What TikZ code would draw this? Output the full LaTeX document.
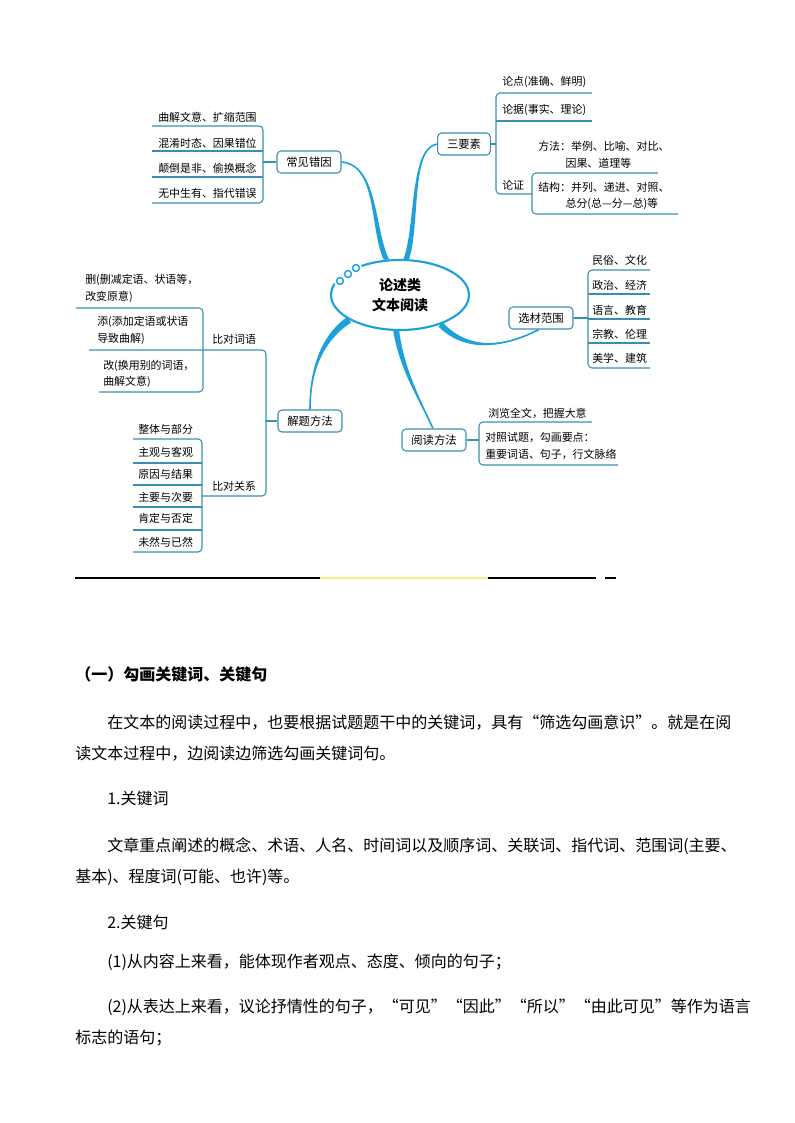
\documentclass[tikz,border=0pt]{standalone}
\usepackage{fontspec}
\setmainfont{Noto Sans CJK SC}
\usetikzlibrary{calc, shapes.geometric}
\definecolor{limbc}{HTML}{1DA1DA}
\definecolor{brkc}{HTML}{3A8FB0}
\definecolor{hilite}{HTML}{F4EE86}
\newcommand\limb[5]{%
  \fill[limbc] ($#1+#5$) .. controls ($#2+0.75*#5$) and ($#3+0.35*#5$) .. #4
    .. controls ($#3-0.35*#5$) and ($#2-0.75*#5$) .. ($#1-#5$) -- cycle;
  \draw[limbc, line width=1.2pt] #1 .. controls #2 and #3 .. #4;}
\begin{document}
\begin{tikzpicture}[x=0.75pt, y=-0.75pt,
brk/.style={draw=brkc, line width=0.8pt, rounded corners=3pt},
topic/.style={draw=brkc, line width=0.8pt, rounded corners=3pt, fill=white,
    minimum height=16.5pt, inner xsep=7pt, inner ysep=0pt, font=\fontsize{8.5}{10}\selectfont},
leaf/.style={anchor=west, inner sep=0pt, align=left, font=\fontsize{8.2}{12.5}\selectfont},
hub/.style={ellipse, draw=limbc, line width=1.6pt, minimum width=103.5pt, minimum height=52.5pt,
    inner sep=0pt, align=center, font=\fontsize{10.5}{15}\selectfont\bfseries},
body/.style={anchor=base west, inner sep=0pt, font=\fontsize{12}{14}\selectfont}]
\useasboundingbox[fill=white] (0,0) rectangle (794,1123);

% centre
\node[hub] (hub) at (400,295) {论述类\\文本阅读};
\foreach \p in {(340,281),(348,274),(356,268)} {
  \fill[white] \p circle (4.4pt);
  \draw[limbc, line width=1.1pt] \p circle (2.6pt);
}

% 常见错因
\node[topic] (cjcy) at (309,162) {常见错因};
\coordinate (cjspine) at (263,0);
\foreach \y/\t [count=\i] in {117/曲解文意、扩缩范围, 143/混淆时态、因果错位, 168/颠倒是非、偷换概念, 193/无中生有、指代错误}
  \node[leaf] (cj\i) at (158,\y) {\t};
\draw[brk] (152,126) -- (263,126) -- (263,203) -- (152,203);
\draw[brk] (152,151) -- (263,151) (152,177) -- (263,177);
\draw[brk] (cjcy.west) -- (cjcy.west -| cjspine);

% 三要素
\node[topic] (sys) at (464,144) {三要素};
\coordinate (sysspine) at (496,0);
\node[leaf] (lund) at (502,82) {论点(准确、鲜明)};
\node[leaf] (lunj) at (502,110) {论据(事实、理论)};
\node[leaf] (lunz) at (502,185) {论证};
\node[leaf] (ff) at (538,155) {方法：举例、比喻、对比、\\\hspace*{2.5em}因果、道理等};
\node[leaf] (jg) at (538,196) {结构：并列、递进、对照、\\\hspace*{2.5em}总分(总—分—总)等};
\draw[brk] (592,93) -- (496,93) -- (496,194) -- (532,194);
\draw[brk] (496,121) -- (592,121);
\draw[brk] (658,173) -- (532,173) -- (532,214) -- (678,214);
\draw[brk] (sys.east) -- (sys.east -| sysspine);

% 选材范围
\node[topic] (xcfw) at (541,318) {选材范围};
\coordinate (xcspine) at (588,0);
\foreach \y/\t [count=\i] in {260/民俗、文化, 285/政治、经济, 310/语言、教育, 334/宗教、伦理, 358/美学、建筑}
  \node[leaf] (xc\i) at (592,\y) {\t};
\draw[brk] (650,270) -- (588,270) -- (588,368) -- (650,368);
\draw[brk] (588,294) -- (650,294) (588,319) -- (650,319) (588,343) -- (650,343);
\draw[brk] (xcfw.east) -- (xcfw.east -| xcspine);

% 解题方法
\node[topic] (jtff) at (310,421) {解题方法};
\coordinate (jtspine) at (266,0);
\node[leaf] (bdcy) at (212,339) {比对词语};
\node[leaf] (bdgx) at (212,486) {比对关系};
\node[leaf] (shan) at (85,288.5) {删(删减定语、状语等，\\改变原意)};
\node[leaf] (tian) at (97,330.5) {添(添加定语或状语\\导致曲解)};
\node[leaf] (gai) at (103,374) {改(换用别的词语，\\曲解文意)};
\foreach \y/\t [count=\i] in {429/整体与部分, 452/主观与客观, 474/原因与结果, 497/主要与次要, 518/肯定与否定, 542/未然与已然}
  \node[leaf] (gx\i) at (138,\y) {\t};
\draw[brk] (89,350) -- (266,350) -- (266,496) -- (202,496);
\draw[brk] (76,308) -- (203,308) -- (203,392) -- (99,392);
\draw[brk] (133,439) -- (202,439) -- (202,552) -- (133,552);
\draw[brk] (133,463) -- (202,463) (133,485) -- (202,485) (133,507) -- (202,507) (133,530) -- (202,530);
\draw[brk] (jtff.west) -- (jtff.west -| jtspine);

% 阅读方法
\node[topic] (ydff) at (434,440) {阅读方法};
\coordinate (ydspine) at (479,0);
\node[leaf] (ll) at (488,413) {浏览全文，把握大意};
\node[leaf] (dz) at (485,446) {对照试题，勾画要点：\\重要词语、句子，行文脉络};
\draw[brk] (592,422) -- (479,422) -- (479,465) -- (618,465);
\draw[brk] (ydff.east) -- (ydff.east -| ydspine);

% branches
\limb{(hub.111)}{(372,230)}{(378,165)}{(cjcy.east)}{(2.8,0)}
\limb{(hub.80)}{(418,225)}{(410,148)}{(sys.west)}{(2.8,0)}
\limb{(hub.-36)}{(462,347)}{(495,352)}{(xcfw.-100)}{(2,-2.2)}
\limb{(hub.264)}{(402,370)}{(420,400)}{(ydff.95)}{(3,0)}
\limb{(hub.206)}{(322,338)}{(310,370)}{(jtff.north)}{(2,2.8)}

% rule
\draw[line width=0.8pt] (75,578) -- (320,578);
\draw[hilite, line width=1.6pt] (320,578) -- (488,578);
\draw[line width=0.8pt] (488,578) -- (596,578) (605,578) -- (616,578);

% text
\node[body, font=\fontsize{12}{14}\selectfont\bfseries] (h1) at (75,680) {（一）勾画关键词、关键句};
\node[body] (p1) at (107,728) {在文本的阅读过程中，也要根据试题题干中的关键词，具有“筛选勾画意识”。就是在阅};
\node[body] (p2) at (75,759) {读文本过程中，边阅读边筛选勾画关键词句。};
\node[body] (k1) at (107,804) {1.关键词};
\node[body] (p3) at (107,851) {文章重点阐述的概念、术语、人名、时间词以及顺序词、关联词、指代词、范围词(主要、};
\node[body] (p4) at (75,882) {基本)、程度词(可能、也许)等。};
\node[body] (k2) at (107,928) {2.关键句};
\node[body] (p5) at (107,967) {(1)从内容上来看，能体现作者观点、态度、倾向的句子；};
\node[body] (p6) at (107,1012) {(2)从表达上来看，议论抒情性的句子，“可见”“因此”“所以”“由此可见”等作为语言};
\node[body] (p7) at (75,1043) {标志的语句；};
\end{tikzpicture}
\end{document}
